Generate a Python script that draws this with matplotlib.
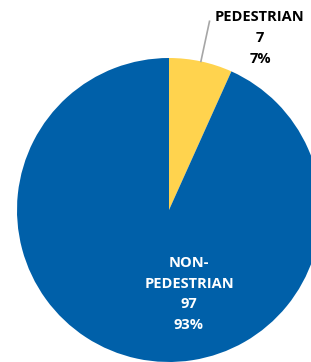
import numpy as np
import matplotlib
matplotlib.use("Agg")
import matplotlib.pyplot as plt

# data
categories = ["PEDESTRIAN", "NON-\nPEDESTRIAN"]
counts = [7, 97]
colors = ["#FFD34E", "#0060A9"]

total = sum(counts)
pcts = [round(100 * c / total) for c in counts]

W, H = 311, 362
fig = plt.figure(figsize=(W / 100, H / 100), dpi=100)
ax = fig.add_axes([0, 0, 1, 1])

cx, cy, r = 169, H - 210, 152
wedges, _ = ax.pie(counts, colors=colors, startangle=90, counterclock=False,
                   center=(cx, cy), radius=r, frame=True,
                   wedgeprops=dict(linewidth=0))
ax.set_xlim(0, W)
ax.set_ylim(0, H)
ax.set_aspect("equal")
ax.axis("off")

font = dict(family=["Open Sans", "DejaVu Sans"], fontweight="bold", fontsize=10.5)

# pedestrian label with leader line
mid = np.deg2rad(90 - 360 * counts[0] / total / 2)
x0, y0 = cx + r * np.cos(mid), cy + r * np.sin(mid)
x1, y1 = cx + 193 * np.cos(mid), cy + 193 * np.sin(mid)
ax.plot([x0, x1], [y0, y1], color="#A6A6A6", lw=1.2)
ax.text(260, H - 38, f"{categories[0]}\n{counts[0]}\n{pcts[0]}%",
        ha="center", va="center", color="black", linespacing=1.6, **font)

# non-pedestrian label inside
ax.text(189, H - 294, f"{categories[1]}\n{counts[1]}\n{pcts[1]}%",
        ha="center", va="center", color="white", linespacing=1.6, **font)

fig.savefig("out.png", dpi=100)
